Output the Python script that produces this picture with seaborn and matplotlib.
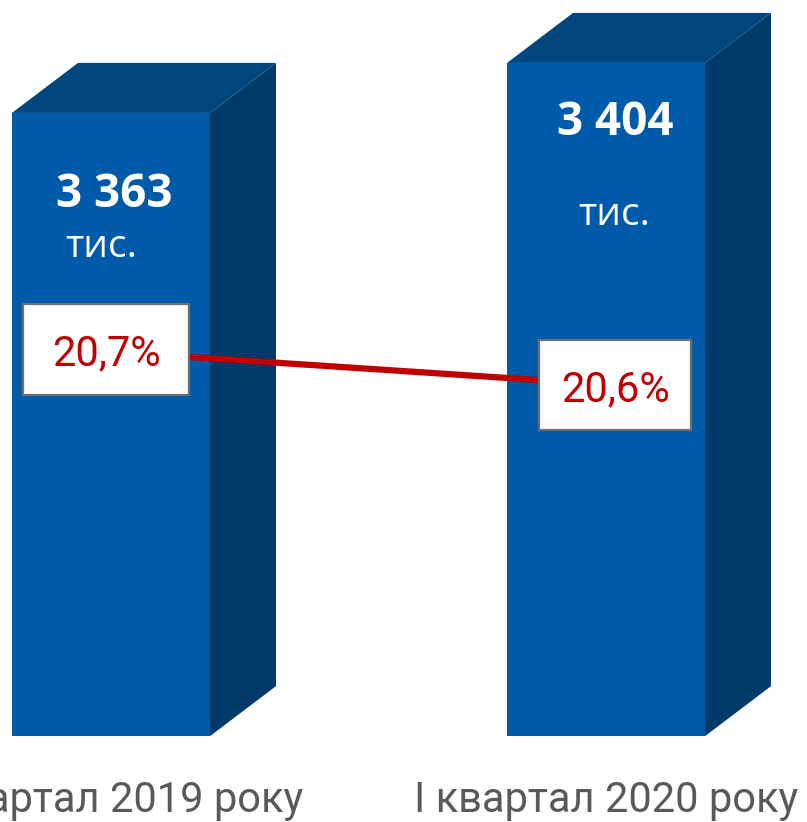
import numpy as np
import pandas as pd
import seaborn as sns
import matplotlib.pyplot as plt
from matplotlib.patches import Polygon, Rectangle
from matplotlib.transforms import offset_copy, IdentityTransform, blended_transform_factory

# Data
periods = ["I квартал 2019 року", "I квартал 2020 року"]
counts = [3363, 3404]
count_labels = ["3 363", "3 404"]
unit_label = "тис."
shares = [20.7, 20.6]
share_labels = ["20,7%", "20,6%"]

# Styling / layout
FRONT = "#005AAA"
TOP = "#00467F"
SIDE = "#003A6B"
RED = "#C00000"
GREY = "#595959"
BASE = 2852           # value where the bars start (bottom of front face)
DX, DY = 0.1333, 41   # 3d depth in data units
value_off = [(3.5, 94), (9, 72)]     # px offsets from bar top centre
unit_off = [(-10, 144), (8, 162)]
box_off = [(-5, 2.2), (9, -0.5)]     # px offsets from line points
box_size = [(166, 91), (152, 90)]

sns.set_theme(style="white")
plt.rcParams['font.family'] = ['Roboto', 'DejaVu Sans']

fig = plt.figure(figsize=(8.07, 8.22), dpi=100)
ax = fig.add_axes([0, 0, 1, 1])

df = pd.DataFrame({'period': periods, 'count': counts})
sns.barplot(data=df, x='period', y='count', color=FRONT, saturation=1,
            width=0.4, linewidth=0, ax=ax, zorder=2)
ax.set_xlim(-0.2242, 1.406)
ax.set_ylim(2781.6, 3455.6)
ax.set_axis_off()

# turn flat bars into boxes
for i, (p, v) in enumerate(zip(ax.patches, counts)):
    p.set_y(BASE)
    p.set_height(v - BASE)
    x0, w = p.get_x(), p.get_width()
    top = v
    side = Polygon([(x0 + w, BASE), (x0 + w + DX, BASE + DY),
                    (x0 + w + DX, top + DY), (x0 + w, top)],
                   closed=True, facecolor=SIDE, edgecolor='none', zorder=2)
    lid = Polygon([(x0, top), (x0 + DX, top + DY),
                   (x0 + w + DX, top + DY), (x0 + w, top)],
                  closed=True, facecolor=TOP, edgecolor='none', zorder=2)
    ax.add_patch(side)
    ax.add_patch(lid)

    cx = x0 + w / 2
    ox, oy = value_off[i]
    ax.text(cx, top, count_labels[i], ha='center', va='baseline',
            color='white', fontsize=33, fontweight='bold', family='Open Sans',
            transform=offset_copy(ax.transData, fig, x=ox, y=-oy, units='dots'),
            zorder=4)
    ox, oy = unit_off[i]
    ax.text(cx, top, unit_label, ha='center', va='baseline',
            color='white', fontsize=28, family='Open Sans',
            transform=offset_copy(ax.transData, fig, x=ox, y=-oy, units='dots'),
            zorder=4)

# category labels
trans = blended_transform_factory(ax.transData, ax.transAxes)
for i, lab in enumerate(periods):
    ax.text(i, 0.0122, lab, ha='center', va='baseline', color=GREY,
            fontsize=30, transform=trans)

# share line on its own scale
ax2 = ax.twinx()
sns.lineplot(x=np.arange(len(shares)), y=shares, ax=ax2, color=RED,
             linewidth=4.5, zorder=3)
ax2.set_ylim(19.2662, 21.7723)
ax2.set_xlim(ax.get_xlim())
ax2.set_axis_off()

for i, (s, lab) in enumerate(zip(shares, share_labels)):
    px, py = ax2.transData.transform((i, s))
    ox, oy = box_off[i]
    w, h = box_size[i]
    cx, cy = px + ox, py + oy
    ax2.add_patch(Rectangle((cx - w / 2, cy - h / 2), w, h,
                            transform=IdentityTransform(), facecolor='white',
                            edgecolor='#6E6E6E', linewidth=1.6, zorder=5,
                            clip_on=False))
    ax2.text(cx, cy - 16, lab, ha='center', va='baseline', color=RED,
             fontsize=30, transform=IdentityTransform(), zorder=6)

fig.savefig("out.png", dpi=100)
